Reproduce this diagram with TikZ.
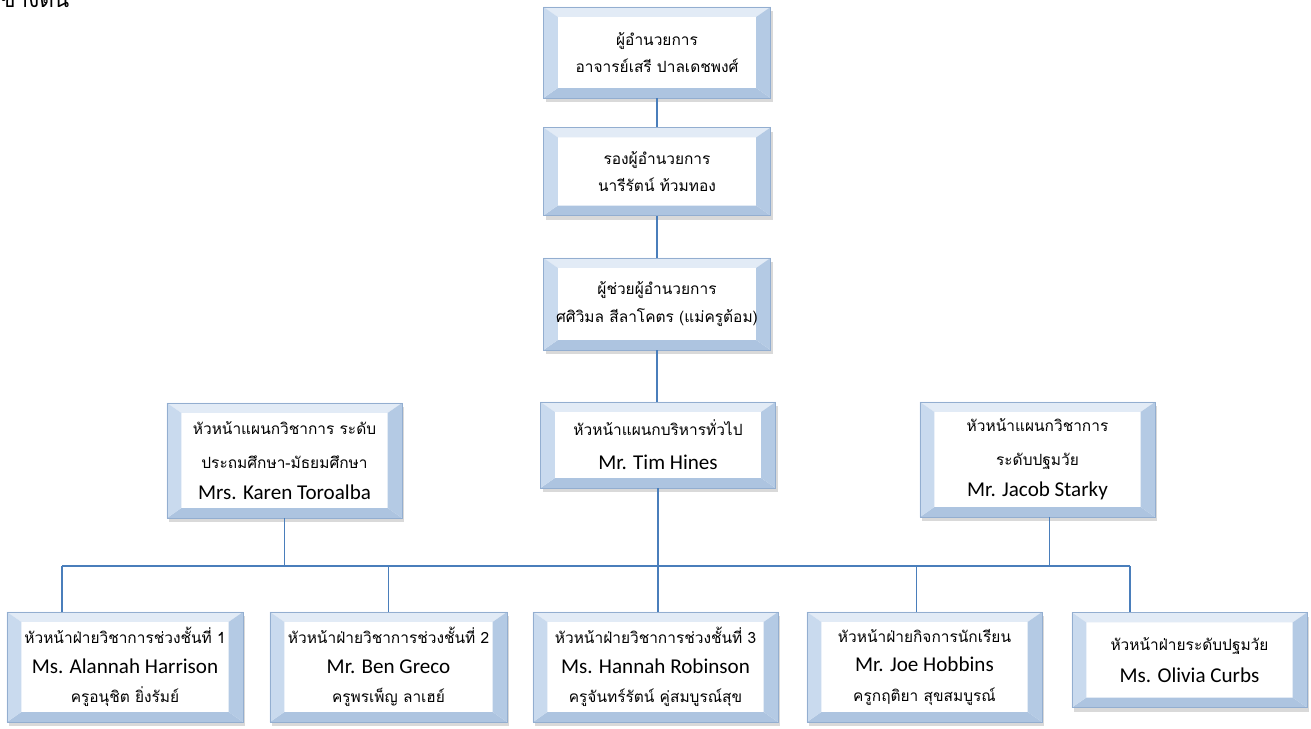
\documentclass[tikz,border=0pt]{standalone}
\usepackage{fontspec}
\setmainfont{Carlito}
\newfontfamily\thaifont[Script=Thai]{Loma}
\usetikzlibrary{shadows}

\definecolor{linkblue}{HTML}{4A7EBB}
\definecolor{bevtop}{HTML}{E2EBF6}
\definecolor{bevleft}{HTML}{C9DAEE}
\definecolor{bevright}{HTML}{B4CAE4}
\definecolor{bevbot}{HTML}{ADC4E0}
\definecolor{bevline}{HTML}{93AED0}

\newcommand{\bevx}{0.36cm}
\newcommand{\bevy}{0.25cm}
\newcommand{\tline}[1]{{\thaifont\fontsize{11}{21}\selectfont #1}}
\newcommand{\nline}[1]{{\fontsize{15}{21}\selectfont #1}}

\tikzset{
  orgbox/.style={rectangle, draw=bevline, line width=0.4pt, fill=white, align=center,
    inner sep=0pt, font=\fontsize{11}{21}\selectfont,
    drop shadow={opacity=0.3, shadow xshift=1.5pt, shadow yshift=-3pt},
    path picture={
      \fill[bevtop] (path picture bounding box.north west) -- (path picture bounding box.north east)
        -- ([shift={(-\bevx,-\bevy)}]path picture bounding box.north east)
        -- ([shift={(\bevx,-\bevy)}]path picture bounding box.north west) -- cycle;
      \fill[bevbot] (path picture bounding box.south west) -- (path picture bounding box.south east)
        -- ([shift={(-\bevx,\bevy)}]path picture bounding box.south east)
        -- ([shift={(\bevx,\bevy)}]path picture bounding box.south west) -- cycle;
      \fill[bevleft] (path picture bounding box.north west) -- ([shift={(\bevx,-\bevy)}]path picture bounding box.north west)
        -- ([shift={(\bevx,\bevy)}]path picture bounding box.south west) -- (path picture bounding box.south west) -- cycle;
      \fill[bevright] (path picture bounding box.north east) -- ([shift={(-\bevx,-\bevy)}]path picture bounding box.north east)
        -- ([shift={(-\bevx,\bevy)}]path picture bounding box.south east) -- (path picture bounding box.south east) -- cycle;
    }},
  link/.style={draw=linkblue, line width=1.2pt}
}

\begin{document}
\begin{tikzpicture}[x=0.025cm, y=-0.025cm]
	\useasboundingbox (0,0) rectangle (1311,729);
	% cut-off text at the top
	\node [anchor=base west, inner sep=0pt] (cut) at (0,8) {\thaifont\fontsize{16}{16}\selectfont ข้างต้น};
	% top column
	\node [orgbox, minimum width=5.675cm, minimum height=2.275cm] (dir) at (657,52.5) {\tline{ผู้อำนวยการ}\\[-1.5pt]\tline{อาจารย์เสรี ปาลเดชพงศ์}};
	\node [orgbox, minimum width=5.675cm, minimum height=2.2cm] (dep) at (657,171.5) {\tline{รองผู้อำนวยการ}\\[-1.5pt]\tline{นารีรัตน์ ท้วมทอง}};
	\node [orgbox, minimum width=5.675cm, minimum height=2.3cm] (ast) at (657,304) {\tline{ผู้ช่วยผู้อำนวยการ}\\[-1.5pt]\tline{ศศิวิมล สีลาโคตร (แม่ครูต้อม)}};
	% heads of sections
	\node [orgbox, minimum width=5.875cm, minimum height=2.875cm] (lk) at (284.5,460.5) {\tline{หัวหน้าแผนกวิชาการ ระดับ}\\[3pt]\tline{ประถมศึกษา-มัธยมศึกษา}\\[1pt]\nline{Mrs. Karen Toroalba}};
	\node [orgbox, minimum width=5.875cm, minimum height=2.15cm] (mk) at (658,445) {\tline{หัวหน้าแผนกบริหารทั่วไป}\\[3pt]\nline{Mr. Tim Hines}};
	\node [orgbox, minimum width=5.875cm, minimum height=2.875cm] (rk) at (1037.5,459.5) {\tline{หัวหน้าแผนกวิชาการ}\\[3pt]\tline{ระดับปฐมวัย}\\[1pt]\nline{Mr. Jacob Starky}};
	% heads of divisions
	\node [orgbox, minimum width=5.9cm, minimum height=2.75cm] (b1) at (125,667) {\tline{หัวหน้าฝ่ายวิชาการช่วงชั้นที่ 1}\\\nline{Ms. Alannah Harrison}\\\tline{ครูอนุชิต ยิ่งรัมย์}};
	\node [orgbox, minimum width=5.925cm, minimum height=2.75cm] (b2) at (388.5,667) {\tline{หัวหน้าฝ่ายวิชาการช่วงชั้นที่ 2}\\\nline{Mr. Ben Greco}\\\tline{ครูพรเพ็ญ ลาเฮย์}};
	\node [orgbox, minimum width=6.125cm, minimum height=2.75cm] (b3) at (655.5,667) {\tline{หัวหน้าฝ่ายวิชาการช่วงชั้นที่ 3}\\\nline{Ms. Hannah Robinson}\\\tline{ครูจันทร์รัตน์ คู่สมบูรณ์สุข}};
	\node [orgbox, minimum width=5.875cm, minimum height=2.75cm] (b4) at (924.5,667) {\tline{หัวหน้าฝ่ายกิจการนักเรียน}\\\nline{Mr. Joe Hobbins}\\\tline{ครูกฤติยา สุขสมบูรณ์}};
	\node [orgbox, minimum width=5.875cm, minimum height=2.375cm] (b5) at (1189.5,660) {\tline{หัวหน้าฝ่ายระดับปฐมวัย}\\[2pt]\nline{Ms. Olivia Curbs}};
	% connectors
	\coordinate (busw) at (62,566);
	\coordinate (buse) at (1130,566);
	\path [link] (dir) -- (dep);
	\path [link] (dep) -- (ast);
	\path [link] (ast.south) -- (ast.south |- mk.north);
	\path [link] (mk.south) -- (mk.south |- b3.north);
	\path [link] (busw) -- (buse);
	\path [link] (busw) -- (busw |- b1.north);
	\path [link] (buse) -- (buse |- b5.north);
	\path [link] (lk.south) -- (lk.south |- busw);
	\path [link] ([xshift=0.3cm]rk.south) -- ([xshift=0.3cm]rk.south |- busw);
	\path [link] (b2.north) -- (b2.north |- busw);
	\path [link] ([xshift=-0.2cm]b4.north) -- ([xshift=-0.2cm]b4.north |- busw);
\end{tikzpicture}
\end{document}
